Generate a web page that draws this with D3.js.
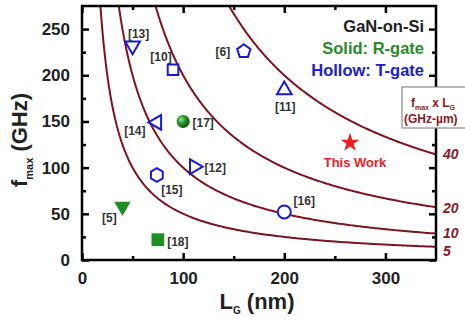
<!DOCTYPE html>
<html><head><meta charset="utf-8">
<script src="https://cdn.jsdelivr.net/npm/d3@7"></script>
<style>body{margin:0;background:#fff}svg{display:block}text{font-family:"Liberation Sans",Arial,sans-serif;font-weight:bold}</style>
</head><body><svg id="c" width="465" height="320"></svg>
<script>
// ---- data ----
const refs   = ["[13]","[10]","[6]","[11]","[14]","[17]","[15]","[12]","[16]","[5]","[18]","This Work"];
const lgNm   = [50, 90, 160, 200, 74, 100, 74, 111, 200, 40, 75, 265];
const fmaxGHz= [232, 206, 226, 184, 149, 150, 92, 101, 52, 58, 22, 127];
const shapes = ["triDown","square","pentagon","triUp","triLeft","sphere","hexagon","triRight","circle","triDown","square","star"];
const groups = ["T","T","T","T","T","R","T","T","T","R","R","W"];
const products = [5, 10, 20, 40];          // fmax x LG (GHz-um)
const xTicks = [0, 100, 200, 300];
const yTicks = [0, 50, 100, 150, 200, 250];
const legendLines = ["GaN-on-Si", "Solid: R-gate", "Hollow: T-gate"];

// label offsets (style)
const labOff = {"[13]":[6,-12],"[10]":[-12,-13],"[6]":[-21,1],"[11]":[1,17],"[14]":[-22,8],"[17]":[20,1],
  "[15]":[15,15],"[12]":[21,1],"[16]":[20,-11],"[5]":[-13,11],"[18]":[20,2],"This Work":[5,20]};
const prodLabOff = {5:4, 10:-1, 20:1, 40:0};

const svg = d3.select("#c");
const L=82,R=436,T=6,B=260;
const x = d3.scaleLinear().domain([0,350]).range([L,R]);
const y = d3.scaleLinear().domain([0,275]).range([B,T]);
const curveCol="#7d1420", blue="#1a1ad6", green="#1f8f24", red="#ee1c1c";

svg.append("rect").attr("width",465).attr("height",320).attr("fill","#fff");
svg.append("clipPath").attr("id","pc").append("rect").attr("x",L).attr("y",T).attr("width",R-L).attr("height",B-T);

// curves
const line = d3.line().x(d=>x(d[0])).y(d=>y(d[1]));
products.forEach(c=>{
  const lo = c*1000/275;
  const pts = d3.range(0,201).map(i=>{const lg = lo*0.98 + (350-lo*0.98)*i/200; return [lg, c*1000/lg];});
  svg.append("path").attr("d",line(pts)).attr("fill","none").attr("stroke",curveCol).attr("stroke-width",2).attr("clip-path","url(#pc)");
});

// axes (box with inward ticks)
function ax(gen, tx){ return svg.append("g").attr("transform",tx).call(gen); }
const xMinor = d3.range(50,350,100), yMinor = d3.range(25,275,50);
const axes = [
 ax(d3.axisBottom(x).tickValues(xTicks).tickSize(-7).tickPadding(12).tickFormat(d3.format("d")), `translate(0,${B})`),
 ax(d3.axisBottom(x).tickValues(xMinor).tickSize(-4).tickFormat(""), `translate(0,${B})`),
 ax(d3.axisTop(x).tickValues(xTicks).tickSize(-7).tickFormat(""), `translate(0,${T})`),
 ax(d3.axisTop(x).tickValues(xMinor).tickSize(-4).tickFormat(""), `translate(0,${T})`),
 ax(d3.axisLeft(y).tickValues(yTicks).tickSize(-7).tickPadding(12).tickFormat(d3.format("d")), `translate(${L},0)`),
 ax(d3.axisLeft(y).tickValues(yMinor).tickSize(-4).tickFormat(""), `translate(${L},0)`),
 ax(d3.axisRight(y).tickValues(yTicks).tickSize(-7).tickFormat(""), `translate(${R},0)`),
 ax(d3.axisRight(y).tickValues(yMinor).tickSize(-4).tickFormat(""), `translate(${R},0)`)
];
axes.forEach(g=>{
  g.select(".domain").remove();
  g.selectAll("line").attr("stroke","#000").attr("stroke-width",2.5);
  g.selectAll("text").attr("font-size",17).attr("fill","#222").attr("font-family","Liberation Sans, Arial").attr("font-weight","bold");
});
svg.append("rect").attr("x",L).attr("y",T).attr("width",R-L).attr("height",B-T).attr("fill","none").attr("stroke","#000").attr("stroke-width",2.5);

// axis titles
const yt = svg.append("text").attr("transform","translate(27,140) rotate(-90)").attr("text-anchor","middle").attr("font-size",22).attr("fill","#222");
yt.append("tspan").text("f");
yt.append("tspan").text("max").attr("font-size",11).attr("dy",6);
yt.append("tspan").text(" (GHz)").attr("dy",-6);
const xt = svg.append("text").attr("x",257).attr("y",309).attr("text-anchor","middle").attr("font-size",22).attr("fill","#222");
xt.append("tspan").text("L");
xt.append("tspan").text("G").attr("font-size",10).attr("dy",5);
xt.append("tspan").text(" (nm)").attr("dy",-5);

// markers
function poly(n, r, rot){
  const p = d3.path();
  for(let i=0;i<n;i++){const a = rot + i*2*Math.PI/n; const px=r*Math.sin(a), py=-r*Math.cos(a); i?p.lineTo(px,py):p.moveTo(px,py);}
  p.closePath(); return p.toString();
}
const defs = svg.append("defs");
const rg = defs.append("radialGradient").attr("id","sph").attr("cx","35%").attr("cy","35%").attr("r","65%");
rg.append("stop").attr("offset","0%").attr("stop-color","#9be39b");
rg.append("stop").attr("offset","45%").attr("stop-color","#2a9a2a");
rg.append("stop").attr("offset","100%").attr("stop-color","#0d5a10");

refs.forEach((r,i)=>{
  const g = svg.append("g").attr("transform",`translate(${x(lgNm[i])},${y(fmaxGHz[i])})`);
  const s = shapes[i], solid = groups[i]!=="T";
  const col = groups[i]==="W"?red:(groups[i]==="R"?green:blue);
  let d;
  if(s==="triDown") d = poly(3,solid?9.5:8.5,Math.PI);
  else if(s==="triUp") d = poly(3,8.5,0);
  else if(s==="triLeft") d = poly(3,8.5,-Math.PI/2);
  else if(s==="triRight") d = poly(3,8.5,Math.PI/2);
  else if(s==="square") d = poly(4,solid?9:7.5,Math.PI/4);
  else if(s==="pentagon") d = poly(5,7,0);
  else if(s==="hexagon") d = poly(6,6.8,0);
  else if(s==="star") d = d3.symbol(d3.symbolStar, 110)();
  if(s==="circle") g.append("circle").attr("r",6.5).attr("fill","#fff").attr("stroke",col).attr("stroke-width",2);
  else if(s==="sphere") g.append("circle").attr("r",6.5).attr("fill","url(#sph)");
  else g.append("path").attr("d",d).attr("fill",solid?col:"#fff").attr("stroke",col).attr("stroke-width",solid?0:2).attr("stroke-linejoin","miter");
  const o = labOff[r];
  svg.append("text").attr("x",x(lgNm[i])+o[0]).attr("y",y(fmaxGHz[i])+o[1]).attr("dy","0.35em").attr("text-anchor","middle")
    .attr("font-size",r==="This Work"?13:12).attr("fill",r==="This Work"?red:"#333").text(r);
});

// legend text
const legCols=["#222","#2a8a2a","#2020c8"];
legendLines.forEach((t,i)=>{
  svg.append("text").attr("x",424).attr("y",32+i*22).attr("text-anchor","end").attr("font-size",16.5).attr("fill",legCols[i]).text(t);
});

// product box
svg.append("rect").attr("x",402).attr("y",87).attr("width",70).attr("height",41).attr("fill","#fff").attr("stroke","#8a8a8a").attr("stroke-width",1.2);
const bt = svg.append("text").attr("x",433).attr("y",107).attr("text-anchor","middle").attr("font-size",12).attr("fill","#8a1a22");
bt.append("tspan").text("f");
bt.append("tspan").text("max").attr("font-size",7).attr("dy",3);
bt.append("tspan").text(" x L").attr("dy",-3);
bt.append("tspan").text("G").attr("font-size",7).attr("dy",3);
svg.append("text").attr("x",404).attr("y",123).attr("font-size",12).attr("fill","#8a1a22").text("(GHz-µm)");

// curve labels on right
products.forEach(c=>{
  svg.append("text").attr("x",443).attr("y",y(c*1000/350)+prodLabOff[c]).attr("dy","0.36em").attr("font-size",14).attr("font-style","italic").attr("fill","#8a1a22").text(c);
});
</script></body></html>
